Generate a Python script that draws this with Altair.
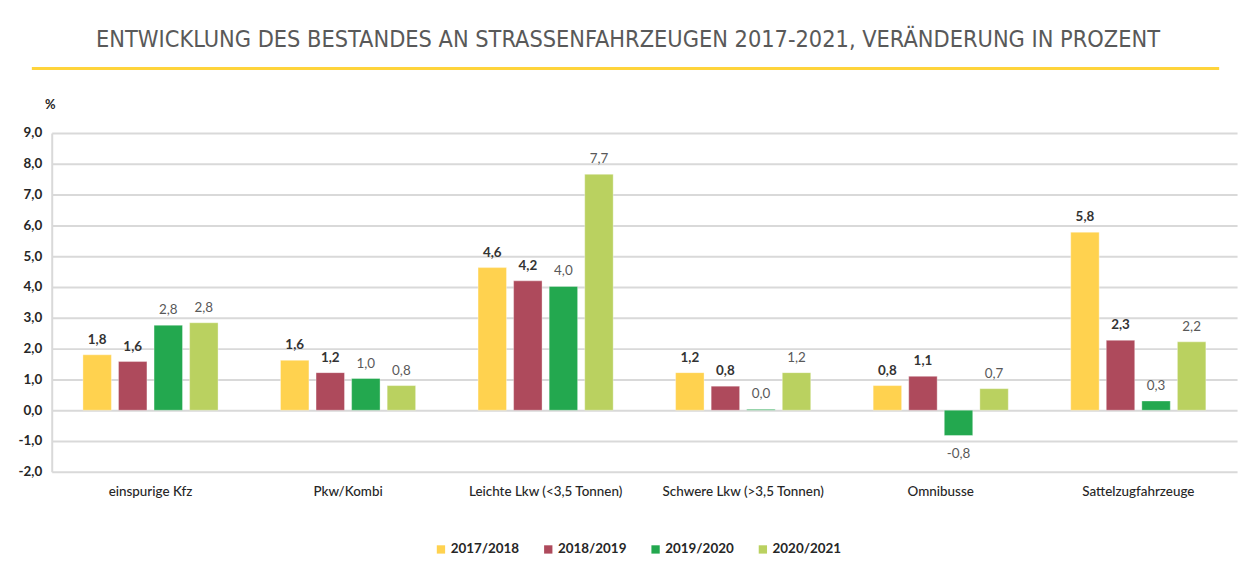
import altair as alt
import pandas as pd

categories = ["einspurige Kfz", "Pkw/Kombi", "Leichte Lkw (<3,5 Tonnen)",
              "Schwere Lkw (>3,5 Tonnen)", "Omnibusse", "Sattelzugfahrzeuge"]
series = ["2017/2018", "2018/2019", "2019/2020", "2020/2021"]
colors = ["#FFD24F", "#AE4A5C", "#23A84F", "#BAD160"]

v_2017_2018 = [1.8, 1.62, 4.63, 1.22, 0.8, 5.78]
v_2018_2019 = [1.58, 1.22, 4.2, 0.78, 1.1, 2.27]
v_2019_2020 = [2.76, 1.03, 4.02, 0.03, -0.82, 0.3]
v_2020_2021 = [2.84, 0.8, 7.66, 1.22, 0.7, 2.22]

title_text = "ENTWICKLUNG DES BESTANDES AN STRASSENFAHRZEUGEN 2017-2021, VERÄNDERUNG IN PROZENT"

rows = []
for s, vals in zip(series, [v_2017_2018, v_2018_2019, v_2019_2020, v_2020_2021]):
    for c, v in zip(categories, vals):
        rows.append({"Kategorie": c, "Zeitraum": s, "Wert": v})
df = pd.DataFrame(rows)

W, H = 1193, 341
FONT = "Lato"
MINUS = "\u2212"

x_enc = alt.X("Kategorie:N", sort=categories,
              scale=alt.Scale(paddingInner=0.28, paddingOuter=0.14),
              axis=alt.Axis(title=None, labelAngle=0, domain=False, ticks=False,
                            labelPadding=13, labelFont=FONT, labelFontSize=13.5,
                            labelColor="#262626", labelFontWeight=500))
xo_enc = alt.XOffset("Zeitraum:N", sort=series,
                     scale=alt.Scale(paddingInner=0.2, paddingOuter=0.1))
y_scale = alt.Scale(domain=[-2, 9], nice=False)
y_axis = alt.Axis(values=list(range(-2, 10)), title="%", titleAngle=0,
                  titleX=-2, titleY=-22, titleFont=FONT, titleFontSize=13,
                  titleFontWeight="bold", titleColor="#262626",
                  labelExpr=f"replace(replace(format(datum.value, '.1f'), '.', ','), '{MINUS}', '-')",
                  labelFont=FONT, labelFontSize=13.5, labelFontWeight="bold",
                  labelColor="#262626", labelPadding=10, ticks=False,
                  labelOverlap=False,
                  domain=True, domainColor="#d9d9d9", domainWidth=2,
                  grid=True, gridColor="#d9d9d9", gridWidth=2)
y_enc = alt.Y("Wert:Q", scale=y_scale, axis=y_axis, title="%")

base = alt.Chart(df)

bars = base.mark_bar(strokeWidth=1, strokeOpacity=0.35, stroke="#ffffff").encode(
    x=x_enc, xOffset=xo_enc, y=y_enc,
    color=alt.Color("Zeitraum:N", sort=series,
                    scale=alt.Scale(domain=series, range=colors),
                    legend=alt.Legend(title=None, orient="none", direction="horizontal",
                                      legendX=385, legendY=412, symbolType="square",
                                      symbolSize=70, symbolStrokeWidth=0,
                                      labelFont=FONT, labelFontSize=13.5,
                                      labelFontWeight="bold", labelColor="#262626",
                                      columnPadding=22, labelOffset=3)),
)

lab = base.transform_calculate(
    label=f"replace(replace(format(datum.Wert, '.1f'), '.', ','), '{MINUS}', '-')"
)

def label_layer(filter_expr, weight, color, baseline, dy):
    return lab.transform_filter(filter_expr).mark_text(
        font=FONT, fontSize=13.5, fontWeight=weight, color=color,
        baseline=baseline, dy=dy
    ).encode(x=x_enc, xOffset=xo_enc, y=y_enc, text="label:N")

t1 = label_layer("(datum.Zeitraum == '2017/2018' || datum.Zeitraum == '2018/2019') && datum.Wert >= 0",
                 "bold", "#333333", "bottom", -8)
t2 = label_layer("(datum.Zeitraum == '2019/2020' || datum.Zeitraum == '2020/2021') && datum.Wert >= 0",
                 "normal", "#595959", "bottom", -8)
t3 = label_layer("datum.Wert < 0", "normal", "#595959", "top", 12)

deco = pd.DataFrame({"t": [title_text]})
title = alt.Chart(deco).mark_text(font="'DejaVu Sans Condensed', 'DejaVu Sans', sans-serif",
                                  fontSize=23.5, fontWeight=300,
                                  color="#595959", align="center", baseline="middle").encode(
    text="t:N", x=alt.value(580), y=alt.value(-94))
line = alt.Chart(deco).mark_rule(color="#FFD43B", strokeWidth=3).encode(
    x=alt.value(-20), x2=alt.value(1175), y=alt.value(-65))

chart = alt.layer(bars, t1, t2, t3, title, line).properties(
    width=W, height=H,
    autosize=alt.AutoSizeParams(type="none"),
    padding={"left": 44, "top": 124, "right": 10, "bottom": 100},
).configure_view(stroke=None)

chart.save("out.html", embed_options={"renderer": "svg", "actions": False})
